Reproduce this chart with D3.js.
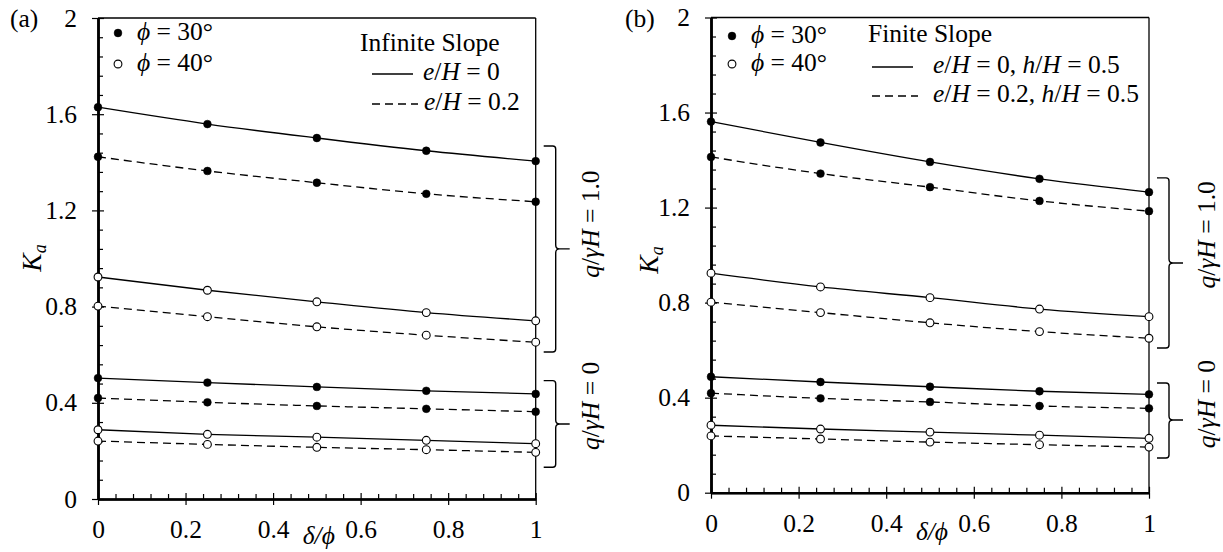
<!DOCTYPE html>
<html><head><meta charset="utf-8">
<script src="https://cdn.jsdelivr.net/npm/d3@7"></script>
<style>
body{margin:0;background:#fff;}
svg{display:block;}
svg text{font-family:'Liberation Serif','Tinos','Times New Roman','DejaVu Serif',serif;}
</style></head>
<body><svg id="c" width="1223" height="552"></svg>
<script>
// ---------- data ----------
const deltaOverPhi = [0, 0.25, 0.5, 0.75, 1];
const xTickValues = [0, 0.2, 0.4, 0.6, 0.8, 1];
const xTickLabels = ["0", "0.2", "0.4", "0.6", "0.8", "1"];
const yTickValues = [0, 0.4, 0.8, 1.2, 1.6, 2];
const yTickLabels = ["0", "0.4", "0.8", "1.2", "1.6", "2"];

// Panel (a) Infinite slope
const a_phi30_e0_q1  = [1.629, 1.559, 1.501, 1.448, 1.405];
const a_phi30_e02_q1 = [1.423, 1.364, 1.315, 1.269, 1.236];
const a_phi40_e0_q1  = [0.923, 0.868, 0.820, 0.775, 0.741];
const a_phi40_e02_q1 = [0.802, 0.758, 0.716, 0.681, 0.652];
const a_phi30_e0_q0  = [0.503, 0.484, 0.466, 0.450, 0.437];
const a_phi30_e02_q0 = [0.420, 0.402, 0.387, 0.375, 0.363];
const a_phi40_e0_q0  = [0.288, 0.269, 0.257, 0.244, 0.230];
const a_phi40_e02_q0 = [0.241, 0.227, 0.215, 0.205, 0.194];

// Panel (b) Finite slope
const b_phi30_e0_q1  = [1.562, 1.474, 1.392, 1.321, 1.265];
const b_phi30_e02_q1 = [1.413, 1.343, 1.286, 1.228, 1.185];
const b_phi40_e0_q1  = [0.924, 0.866, 0.821, 0.773, 0.741];
const b_phi40_e02_q1 = [0.802, 0.758, 0.715, 0.678, 0.650];
const b_phi30_e0_q0  = [0.488, 0.466, 0.446, 0.427, 0.414];
const b_phi30_e02_q0 = [0.419, 0.397, 0.382, 0.365, 0.355];
const b_phi40_e0_q0  = [0.284, 0.268, 0.255, 0.242, 0.229];
const b_phi40_e02_q0 = [0.239, 0.226, 0.213, 0.202, 0.192];

// brace ranges in Ka units [top, bottom, middle, labelCenter]
const a_braceQ1 = [1.468, 0.611, 1.04, 1.143];
const a_braceQ0 = [0.492, 0.132, 0.312, 0.387];
const b_braceQ1 = [1.325, 0.609, 0.967, 1.085];
const b_braceQ0 = [0.462, 0.146, 0.306, 0.373];

// ---------- drawing ----------
const svg = d3.select("#c");
const FS = 25.5;
const FONT = "'Liberation Serif','Tinos','Times New Roman','DejaVu Serif',serif";
const PHI = "\u03D5";

function mkSeries(vals, filled, dashed){ return {vals, filled, dashed}; }

function panel(cfg){
  const g = svg.append("g");
  const x = d3.scaleLinear().domain([0,1]).range([cfg.left, cfg.right]);
  const y = d3.scaleLinear().domain([0,2]).range([cfg.bottom, cfg.top]);

  g.append("line").attr("x1",cfg.left).attr("x2",cfg.right).attr("y1",y(2)).attr("y2",y(2))
    .attr("stroke","#000").attr("stroke-width",1.6);
  g.append("line").attr("x1",cfg.right).attr("x2",cfg.right).attr("y1",y(2)).attr("y2",y(0))
    .attr("stroke","#000").attr("stroke-width",1.3);

  const yMinor = d3.range(0, 2.0001, 0.08).filter(v => yTickValues.every(t => Math.abs(t-v) > 1e-6));
  const xMinor = d3.range(0, 1.0001, 0.04).filter(v => xTickValues.every(t => Math.abs(t-v) > 1e-6));

  g.append("g").attr("transform",`translate(${cfg.left},0)`)
    .call(d3.axisLeft(y).tickValues(yTickValues).tickSizeInner(6).tickSizeOuter(0).tickPadding(15)
      .tickFormat((d,i)=>yTickLabels[i]));
  g.append("g").attr("transform",`translate(${cfg.left},0)`)
    .call(d3.axisRight(y).tickValues(yTickValues).tickSize(6).tickSizeOuter(0).tickFormat(""));
  g.append("g").attr("transform",`translate(${cfg.left},0)`)
    .call(d3.axisRight(y).tickValues(yMinor).tickSize(5).tickSizeOuter(0).tickFormat(""));

  g.append("g").attr("transform",`translate(0,${cfg.bottom})`)
    .call(d3.axisBottom(x).tickValues(xTickValues).tickSizeInner(6).tickSizeOuter(0).tickPadding(15)
      .tickFormat((d,i)=>xTickLabels[i]));
  g.append("g").attr("transform",`translate(0,${cfg.bottom})`)
    .call(d3.axisTop(x).tickValues(xTickValues).tickSize(6).tickSizeOuter(0).tickFormat(""));
  g.append("g").attr("transform",`translate(0,${cfg.bottom})`)
    .call(d3.axisTop(x).tickValues(xMinor).tickSize(5).tickSizeOuter(0).tickFormat(""));

  g.selectAll("g").attr("font-family",FONT);
  g.selectAll(".domain").attr("stroke","#000").attr("stroke-width",2.2);
  g.selectAll(".tick line").attr("stroke","#000").attr("stroke-width",1.2);
  g.selectAll(".tick text").attr("font-size",FS).attr("font-family",FONT).attr("fill","#000");

  const line = d3.line().x((d,i)=>x(deltaOverPhi[i])).y(d=>y(d)).curve(d3.curveMonotoneX);
  cfg.series.forEach(s=>{
    g.append("path").attr("d", line(s.vals)).attr("fill","none").attr("stroke","#000")
      .attr("stroke-width",1.3).attr("stroke-dasharray", s.dashed ? "8,5" : null);
  });
  cfg.series.forEach(s=>{
    g.selectAll(null).data(s.vals).enter().append("circle")
      .attr("cx",(d,i)=>x(deltaOverPhi[i])).attr("cy",d=>y(d))
      .attr("r", 3.9)
      .attr("fill", s.filled ? "#000" : "#fff")
      .attr("stroke","#000").attr("stroke-width", s.filled ? 0.5 : 1.1);
  });

  g.append("text").attr("x",cfg.labelX).attr("y",27).attr("font-size",FS).text(cfg.label);

  const yl = g.append("text").attr("transform",`translate(${cfg.yLabX},${cfg.yLabY}) rotate(-90)`)
    .attr("font-size",FS+2).attr("text-anchor","middle");
  yl.append("tspan").attr("font-style","italic").text("K");
  yl.append("tspan").attr("font-style","italic").attr("font-size",18).attr("dy",5).text("a");

  g.append("text").attr("x", x(0.5)+2).attr("y", cfg.xLabY).attr("font-size",FS)
    .attr("text-anchor","middle").attr("font-style","italic").text("δ/" + PHI);

  const lg = [[true,"30°"],[false,"40°"]];
  lg.forEach((d,i)=>{
    g.append("circle").attr("cx",cfg.left+cfg.mkDX).attr("cy",cfg.mkY[i]).attr("r",3.9)
      .attr("fill",d[0]?"#000":"#fff").attr("stroke","#000").attr("stroke-width",d[0]?0.5:1.1);
    const t = g.append("text").attr("x",cfg.left+cfg.mkDX+19).attr("y",cfg.mkY[i]+7).attr("font-size",FS);
    t.append("tspan").attr("font-style","italic").text(PHI);
    t.append("tspan").text(" = " + d[1]);
  });

  g.append("text").attr("x",cfg.titleX).attr("y",cfg.titleY).attr("font-size",FS).text(cfg.title);
  cfg.rows.forEach((r,i)=>{
    g.append("line").attr("x1",cfg.lineX1).attr("x2",cfg.lineX2[i]).attr("y1",cfg.rowY[i]-6).attr("y2",cfg.rowY[i]-6)
      .attr("stroke","#000").attr("stroke-width",1.3).attr("stroke-dasharray", i===1 ? "8,5" : null);
    const t = g.append("text").attr("x",cfg.rowTextX[i]).attr("y",cfg.rowY[i]).attr("font-size",FS);
    r.forEach(p=>{ t.append("tspan").attr("font-style", p[1] ? "italic" : "normal").text(p[0]); });
  });

  function brace(b, lbl){
    const xv = cfg.right+20, xh = cfg.right+8, xt = cfg.right+34;
    const yt = y(b[0]), yb = y(b[1]), ym = y(b[2]);
    const p = `M${xh},${yt} L${xv-3},${yt} Q${xv},${yt} ${xv},${yt+3} L${xv},${ym-4} Q${xv},${ym} ${xv+4},${ym} L${xt},${ym} `+
              `M${xv+4},${ym} Q${xv},${ym} ${xv},${ym+4} L${xv},${yb-3} Q${xv},${yb} ${xv-3},${yb} L${xh},${yb}`;
    g.append("path").attr("d",p).attr("fill","none").attr("stroke","#000").attr("stroke-width",1.4);
    const t = g.append("text").attr("transform",`translate(${cfg.right+cfg.qLabDX},${y(b[3])}) rotate(-90)`)
      .attr("font-size",FS).attr("text-anchor","middle");
    t.append("tspan").attr("font-style","italic").text("q");
    t.append("tspan").text("/");
    t.append("tspan").attr("font-style","italic").text("γH");
    t.append("tspan").text(" = " + lbl);
  }
  brace(cfg.braceQ1, "1.0");
  brace(cfg.braceQ0, "0");
}

panel({
  left:98, right:535.7, top:18, bottom:499, label:"(a)", labelX:10,
  yLabX:41, yLabY:258, xLabY:544,
  mkDX:20, mkY:[33,64],
  title:"Infinite Slope", titleX:360, titleY:51,
  lineX1:372, lineX2:[413,418], rowY:[80,110], rowTextX:[423,424],
  rows:[[["e",true],["/",false],["H",true],[" = 0",false]],
        [["e",true],["/",false],["H",true],[" = 0.2",false]]],
  braceQ1:a_braceQ1, braceQ0:a_braceQ0, qLabDX:63,
  series:[
    mkSeries(a_phi30_e0_q1,true,false), mkSeries(a_phi30_e02_q1,true,true),
    mkSeries(a_phi40_e0_q1,false,false), mkSeries(a_phi40_e02_q1,false,true),
    mkSeries(a_phi30_e0_q0,true,false), mkSeries(a_phi30_e02_q0,true,true),
    mkSeries(a_phi40_e0_q0,false,false), mkSeries(a_phi40_e02_q0,false,true)
  ]
});

panel({
  left:711, right:1149, top:17.5, bottom:492.7, label:"(b)", labelX:625,
  yLabX:658, yLabY:260, xLabY:540,
  mkDX:21, mkY:[36,64],
  title:"Finite Slope", titleX:868, titleY:42,
  lineX1:872, lineX2:[913,918], rowY:[73,102], rowTextX:[933,933],
  rows:[[["e",true],["/",false],["H",true],[" = 0, ",false],["h",true],["/",false],["H",true],[" = 0.5",false]],
        [["e",true],["/",false],["H",true],[" = 0.2, ",false],["h",true],["/",false],["H",true],[" = 0.5",false]]],
  braceQ1:b_braceQ1, braceQ0:b_braceQ0, qLabDX:66,
  series:[
    mkSeries(b_phi30_e0_q1,true,false), mkSeries(b_phi30_e02_q1,true,true),
    mkSeries(b_phi40_e0_q1,false,false), mkSeries(b_phi40_e02_q1,false,true),
    mkSeries(b_phi30_e0_q0,true,false), mkSeries(b_phi30_e02_q0,true,true),
    mkSeries(b_phi40_e0_q0,false,false), mkSeries(b_phi40_e02_q0,false,true)
  ]
});
</script></body></html>
